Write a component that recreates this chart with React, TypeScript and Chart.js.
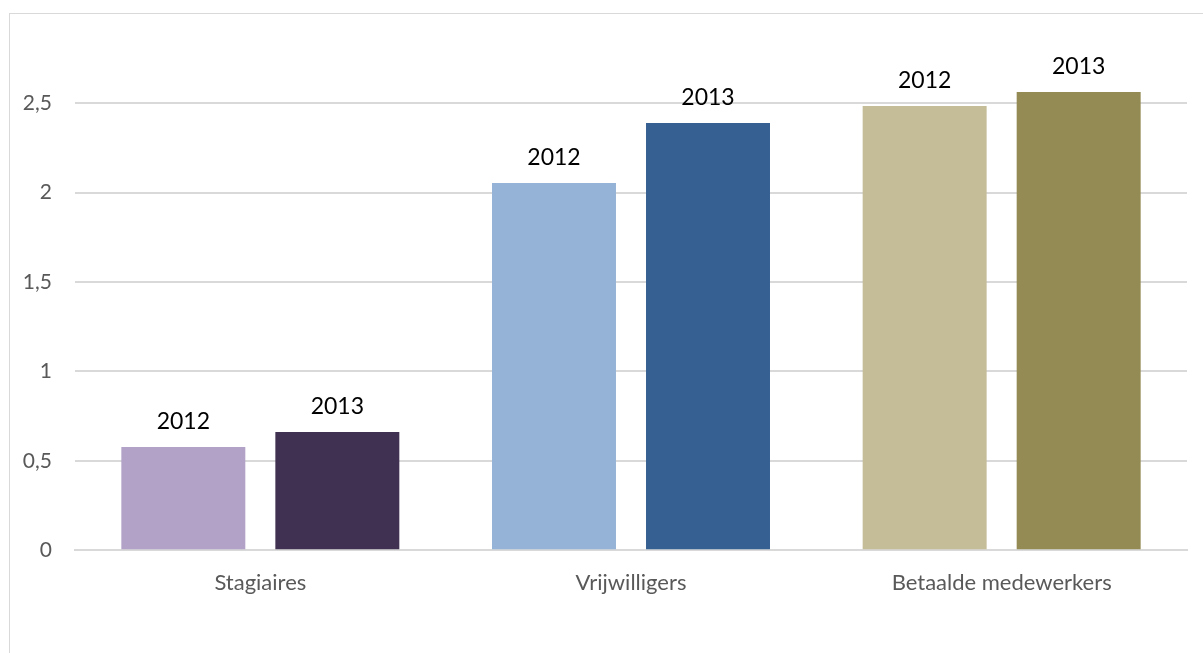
import React, { useEffect, useRef } from "react";
import { Chart, registerables } from "chart.js";

Chart.register(...registerables);

const categories = ["Stagiaires", "Vrijwilligers", "Betaalde medewerkers"];
const seriesNames = ["2012", "2013"];
const values2012 = [0.577, 2.053, 2.483];
const values2013 = [0.661, 2.388, 2.562];
const colors2012 = ["#b3a2c7", "#95b3d7", "#c4bd97"];
const colors2013 = ["#403152", "#366092", "#948a54"];
const yTicks = [0, 0.5, 1, 1.5, 2, 2.5];

const FONT = "Lato, 'Open Sans', sans-serif";

const frame = {
  id: "frame",
  beforeDraw(chart: any) {
    const ctx = chart.ctx;
    ctx.save();
    ctx.fillStyle = "#ffffff";
    ctx.fillRect(0, 0, chart.width, chart.height);
    ctx.strokeStyle = "#d9d9d9";
    ctx.lineWidth = 1;
    ctx.strokeRect(9.5, 13.5, chart.width + 20, chart.height + 20);
    ctx.restore();
  },
};

const barLabels = {
  id: "barLabels",
  afterDatasetsDraw(chart: any) {
    const ctx = chart.ctx;
    ctx.save();
    ctx.font = `23px ${FONT}`;
    ctx.fillStyle = "#000000";
    ctx.textAlign = "center";
    ctx.textBaseline = "alphabetic";
    chart.data.datasets.forEach((ds: any, i: number) => {
      const meta = chart.getDatasetMeta(i);
      meta.data.forEach((el: any) => {
        ctx.fillText(ds.label, el.x, el.y - 18);
      });
    });
    ctx.restore();
  },
};

export default function App() {
  const ref = useRef<HTMLCanvasElement>(null);
  useEffect(() => {
    if (!ref.current) return;
    const chart = new Chart(ref.current, {
      type: "bar",
      data: {
        labels: categories,
        datasets: [
          { label: seriesNames[0], data: values2012, backgroundColor: colors2012 },
          { label: seriesNames[1], data: values2013, backgroundColor: colors2013 },
        ],
      },
      options: {
        animation: false,
        responsive: false,
        devicePixelRatio: 1,
        layout: { padding: { left: 0, right: 16, top: 13.6, bottom: 0 } },
        plugins: { legend: { display: false }, tooltip: { enabled: false } },
        datasets: { bar: { categoryPercentage: 0.831, barPercentage: 0.805 } },
        scales: {
          x: {
            grid: { display: false, drawTicks: false },
            border: { display: true, color: "#d9d9d9", width: 2 },
            ticks: { color: "#595959", font: { family: FONT, size: 22 }, padding: 19, maxRotation: 0 },
            afterFit: (s: any) => {
              s.height = 653 - 550.3;
              s.paddingLeft = 0; s.paddingRight = 0; s.paddingTop = 0; s.paddingBottom = 0;
            },
          },
          y: {
            min: 0,
            max: 3,
            afterBuildTicks: (s: any) => { s.ticks = yTicks.map((v) => ({ value: v })); },
            afterFit: (s: any) => {
              s.width = 75;
              s.paddingLeft = 0; s.paddingRight = 0; s.paddingTop = 0; s.paddingBottom = 0;
            },
            grid: { color: "#d9d9d9", lineWidth: 2, drawTicks: false },
            border: { display: false },
            ticks: {
              color: "#595959",
              font: { family: FONT, size: 21 },
              padding: 23,
              callback: (v: any) => String(v).replace(".", ","),
            },
          },
        },
      },
      plugins: [frame, barLabels],
    });
    return () => chart.destroy();
  }, []);
  return (
    <div style={{ position: "absolute", left: 0, top: 0, width: 1203, height: 653, overflow: "hidden" }}>
      <canvas ref={ref} width={1203} height={653} style={{ display: "block" }} />
    </div>
  );
}
